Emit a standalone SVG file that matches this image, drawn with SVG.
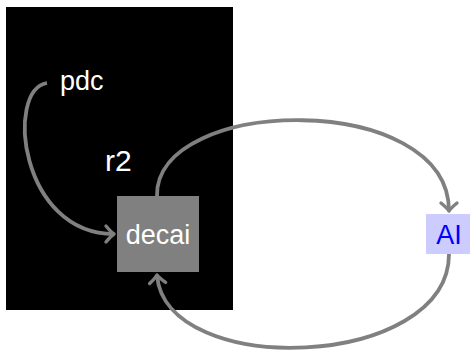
<svg xmlns="http://www.w3.org/2000/svg" width="470" height="351" viewBox="0 0 470 351">
<defs>
<style>
.lbl{font-family:"Liberation Sans","DejaVu Sans",sans-serif;font-size:27px;}
.w{fill:#ffffff;}
.edge{fill:none;stroke:#808080;stroke-width:3.8;}
</style>
<marker id="arr" markerUnits="userSpaceOnUse" markerWidth="24" markerHeight="24" viewBox="-12 -12 24 24" refX="0" refY="0" orient="auto">
<path d="M -8 -8 Q -3 -2 0 0 Q -3 2 -8 8" fill="none" stroke="#808080" stroke-width="3.4" stroke-linecap="round" stroke-linejoin="round"/>
</marker>
</defs>
<rect id="background" x="6" y="7" width="227" height="303" fill="#000000"/>
<g id="pdc"><text class="lbl w" x="60" y="90">pdc</text></g>
<g id="r2"><text class="lbl w" x="105" y="171" style="font-size:30px">r2</text></g>
<g id="decai">
<rect x="117" y="196" width="82" height="76" fill="#808080"/>
<text class="lbl w" x="158" y="244" text-anchor="middle">decai</text>
</g>
<g id="AI">
<rect x="426" y="214" width="45" height="40" fill="#ccccff"/>
<text class="lbl" x="449" y="244" text-anchor="middle" fill="#0000ff">AI</text>
</g>
<g id="connectors">
<path class="edge" d="M 47 83 C 5 90, 20 234, 114 234" marker-end="url(#arr)"/>
<path class="edge" d="M 157 196 C 155 95, 449 90, 449 211" marker-end="url(#arr)"/>
<path class="edge" d="M 449 254 C 449 370, 165 380, 157 275" marker-end="url(#arr)"/>
</g>
</svg>
